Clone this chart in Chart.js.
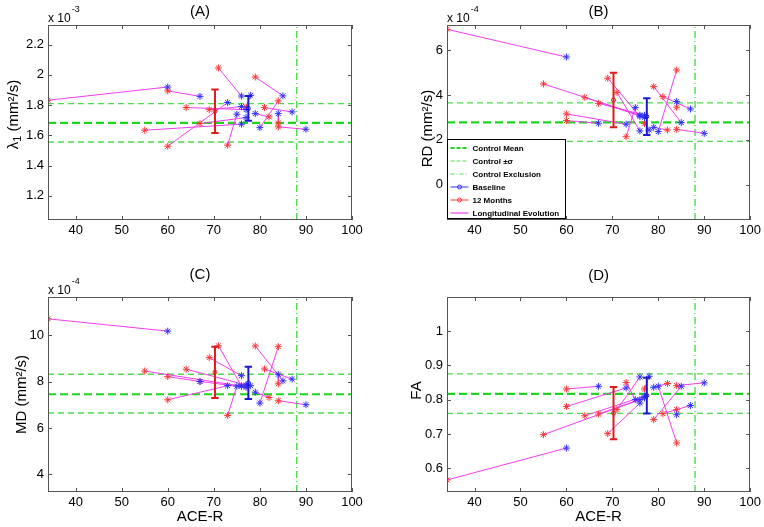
<!DOCTYPE html>
<html>
<head>
<meta charset="utf-8">
<script src="https://cdn.jsdelivr.net/npm/chart.js@4.4.1/dist/chart.umd.min.js"></script>
<style>
  body { margin: 0; background: #fff; }
  canvas { position: absolute; }
</style>
</head>
<body>
<canvas id="cA" width="382" height="262" style="left:0;top:0"></canvas>
<canvas id="cB" width="382" height="262" style="left:382px;top:0"></canvas>
<canvas id="cC" width="382" height="265" style="left:0;top:262px"></canvas>
<canvas id="cD" width="382" height="265" style="left:382px;top:262px"></canvas>
<script>
// ACE-R score of each subject at baseline and after 12 months
const aceBaseline = [60, 67, 76, 85, 87, 90, 84, 80, 79, 76, 73, 77, 77, 75, 78, 76]
const ace12Months = [34, 60, 71, 79, 81, 84, 84, 84, 82, 55, 60, 64, 67, 73, 77, 69]
const aceTicks = [40, 50, 60, 70, 80, 90, 100]
const aceRange = [34, 100]
const exclusionAce = 88
const meanAce = [77.5, 70.25]   // baseline, 12 months

// (A) lambda1  (x 10^-3)
const l1Baseline = [1.92, 1.858, 1.86, 1.861, 1.755, 1.64, 1.744, 1.651, 1.744, 1.674, 1.817, 1.77, 1.718, 1.74, 1.865, 1.79]
const l1Months12 = [1.832, 1.894, 2.046, 1.986, 1.784, 1.656, 1.682, 1.828, 1.722, 1.634, 1.528, 1.784, 1.678, 1.535, 1.788, 1.77]
const l1Control = [1.556, 1.682, 1.81]   // -sd, mean, +sd
const l1Mean = [1.778, 1.76]
const l1Low = [1.696, 1.615]
const l1High = [1.861, 1.903]
const l1Ticks = [1.2, 1.4, 1.6, 1.8, 2, 2.2]

// (B) RD  (x 10^-4)
const rdBaseline = [5.70, 2.74, 2.40, 2.77, 3.38, 2.29, 3.71, 2.37, 2.56, 3.10, 2.70, 3.00, 3.10, 3.44, 2.44, 3.05]
const rdMonths12 = [6.94, 2.86, 4.12, 4.38, 3.93, 2.47, 3.46, 5.12, 2.44, 4.50, 3.16, 3.90, 3.63, 2.14, 2.74, 4.75]
const rdControl = [1.93, 2.78, 3.65]
const rdMean = [3.04, 3.78]
const rdLow = [2.22, 2.56]
const rdHigh = [3.86, 5.00]
const rdTicks = [0, 2, 4, 6]

// (C) MD  (x 10^-4)
const mdBaseline = [10.17, 8.0, 7.8, 8.03, 8.10, 7.0, 8.31, 7.07, 7.54, 7.8, 7.82, 7.85, 7.75, 7.8, 7.82, 8.25]
const mdMonths12 = [10.70, 8.21, 9.54, 9.53, 8.54, 7.17, 7.90, 9.50, 7.31, 8.45, 7.21, 8.53, 8.0, 6.54, 7.81, 9.03]
const mdControl = [6.64, 7.45, 8.31]
const mdMean = [7.94, 8.40]
const mdLow = [7.25, 7.29]
const mdHigh = [8.64, 9.50]
const mdTicks = [4, 6, 8, 10]

// (D) FA
const faBaseline = [0.659, 0.839, 0.866, 0.839, 0.783, 0.849, 0.756, 0.839, 0.836, 0.80, 0.834, 0.81, 0.805, 0.80, 0.868, 0.79]
const faMonths12 = [0.566, 0.831, 0.771, 0.742, 0.759, 0.841, 0.771, 0.674, 0.847, 0.698, 0.780, 0.753, 0.758, 0.850, 0.831, 0.701]
const faControl = [0.760, 0.817, 0.875]
const faMean = [0.812, 0.761]
const faLow = [0.760, 0.685]
const faHigh = [0.864, 0.837]
const faTicks = [0.6, 0.7, 0.8, 0.9, 1]

const legendLabels = ['Control Mean', 'Control \u00b1\u03c3', 'Control Exclusion', 'Baseline', '12 Months', 'Longitudinal Evolution']

const FONT = "'Liberation Sans', Arial, Helvetica, sans-serif"
const BLUE = '#3030ff', RED = '#ff3535', MAGENTA = '#f03cf0'
const MEAN_GREEN = '#1fd61f', LIGHT_GREEN = '#4cdc4c'
const BAR_BLUE = '#1a1ad0', BAR_RED = '#dc1c1c'

const fmt = v => String(Number(v.toFixed(3)))

const hline = (y, color, width, dash, order) => ({
    data: [{x: aceRange[0], y: y}, {x: aceRange[1], y: y}],
    borderColor: color, borderWidth: width, borderDash: dash, pointRadius: 0, order: order
})

// rotated y label made of pieces [text, baseline shift, size factor]
function drawYTitle(ctx, parts, cx, cy) {
    const size = 15
    let total = 0
    parts.forEach(p => {
        ctx.font = Math.round(size * p[2]) + 'px ' + FONT
        total += ctx.measureText(p[0]).width
    })
    ctx.save()
    ctx.translate(cx, cy)
    ctx.rotate(-Math.PI / 2)
    ctx.textAlign = 'left'
    ctx.textBaseline = 'middle'
    let x = -total / 2
    parts.forEach(p => {
        ctx.font = Math.round(size * p[2]) + 'px ' + FONT
        ctx.fillText(p[0], x, p[1])
        x += ctx.measureText(p[0]).width
    })
    ctx.restore()
}

// draws box, inward ticks, panel title, y label, exponent and (for B) legend
const framePlugin = {
    id: 'frame',
    afterDatasetsDraw(chart, args, o) {
        const {ctx, chartArea: a, scales: {x, y}} = chart
        ctx.save()
        ctx.strokeStyle = '#555'
        ctx.lineWidth = 1
        ctx.strokeRect(Math.round(a.left) + 0.5, Math.round(a.top) + 0.5, Math.round(a.width) - 1, Math.round(a.height) - 1)
        ctx.beginPath()
        x.ticks.forEach(t => {
            const px = Math.round(x.getPixelForValue(t.value)) + 0.5
            ctx.moveTo(px, a.bottom); ctx.lineTo(px, a.bottom - 4)
            ctx.moveTo(px, a.top); ctx.lineTo(px, a.top + 4)
        })
        y.ticks.forEach(t => {
            const py = Math.round(y.getPixelForValue(t.value)) + 0.5
            ctx.moveTo(a.left, py); ctx.lineTo(a.left + 4, py)
            ctx.moveTo(a.right, py); ctx.lineTo(a.right - 4, py)
        })
        ctx.stroke()
        ctx.restore()
    },
    afterDraw(chart, args, o) {
        const {ctx, chartArea: a} = chart
        ctx.save()
        ctx.fillStyle = '#000'
        ctx.font = '15px ' + FONT
        ctx.textAlign = 'center'
        ctx.textBaseline = 'middle'
        ctx.fillText(o.title, (a.left + a.right) / 2, a.top - o.titleGap)
        drawYTitle(ctx, o.yTitle, o.yTitleX, (a.top + a.bottom) / 2 + o.yTitleShift)
        if (o.exponent) {
            ctx.textAlign = 'left'
            ctx.textBaseline = 'alphabetic'
            ctx.font = '12px ' + FONT
            ctx.fillText('x 10', a.left, a.top - 3)
            const w = ctx.measureText('x 10').width
            ctx.font = '9px ' + FONT
            ctx.fillText(o.exponent, a.left + w + 1, a.top - 13)
        }
        if (o.legend) drawLegend(ctx, a)
        ctx.restore()
    }
}

function drawLegend(ctx, a) {
    const L = Math.round(a.left) + 0.5, W = 118, H = 79
    const T = Math.round(a.bottom - 2 - H) + 0.5
    ctx.fillStyle = '#fff'
    ctx.fillRect(L, T, W, H)
    ctx.strokeStyle = '#000'
    ctx.lineWidth = 1
    ctx.strokeRect(L, T, W, H)
    const styles = [
        {c: MEAN_GREEN, w: 2, d: [4, 2]},
        {c: LIGHT_GREEN, w: 1, d: [4, 2]},
        {c: LIGHT_GREEN, w: 1, d: [4, 2, 1, 2]},
        {c: BLUE, w: 1, d: [], m: true},
        {c: RED, w: 1, d: [], m: true},
        {c: MAGENTA, w: 1.2, d: []}
    ]
    ctx.font = 'bold 8px ' + FONT
    ctx.textAlign = 'left'
    ctx.textBaseline = 'middle'
    legendLabels.forEach((lab, i) => {
        const yy = T + 8.5 + i * 13
        const s = styles[i]
        ctx.strokeStyle = s.c
        ctx.lineWidth = s.w
        ctx.setLineDash(s.d)
        ctx.beginPath()
        ctx.moveTo(L + 3, yy); ctx.lineTo(L + 21, yy)
        ctx.stroke()
        ctx.setLineDash([])
        if (s.m) {
            ctx.beginPath()
            ctx.arc(L + 12, yy, 2, 0, Math.PI * 2)
            ctx.stroke()
        }
        ctx.fillStyle = '#000'
        ctx.fillText(lab, L + 25, yy + 0.5)
    })
}

function makePanel(id, p) {
    const datasets = []
    // control lines
    datasets.push(hline(p.control[0], LIGHT_GREEN, 1.4, [6, 4], 20))
    datasets.push(hline(p.control[2], LIGHT_GREEN, 1.4, [6, 4], 20))
    datasets.push(hline(p.control[1], MEAN_GREEN, 2.2, [8, 4], 19))
    datasets.push({
        data: [{x: exclusionAce, y: p.range[0]}, {x: exclusionAce, y: p.range[1]}],
        borderColor: LIGHT_GREEN, borderWidth: 1.4, borderDash: [7, 3, 1, 3], pointRadius: 0, order: 20
    })
    // longitudinal evolution (one segment per subject)
    const evo = []
    p.base.forEach((b, i) => {
        evo.push({x: aceBaseline[i], y: b}, {x: ace12Months[i], y: p.m12[i]}, {x: ace12Months[i], y: null})
    })
    datasets.push({data: evo, borderColor: MAGENTA, borderWidth: 1, pointRadius: 0, spanGaps: false, order: 10})
    // subjects
    datasets.push({
        data: aceBaseline.map((x, i) => ({x: x, y: p.base[i]})),
        showLine: false, pointStyle: 'star', pointRadius: 3.5, borderColor: BLUE, borderWidth: 1, order: 3
    })
    datasets.push({
        data: ace12Months.map((x, i) => ({x: x, y: p.m12[i]})),
        showLine: false, pointStyle: 'star', pointRadius: 3.5, borderColor: RED, borderWidth: 1, order: 3
    })
    // mean +- sd error bars
    const cap = 0.8
    ;[BAR_BLUE, BAR_RED].forEach((col, k) => {
        const x = meanAce[k], lo = p.low[k], hi = p.high[k]
        datasets.push({
            data: [{x: x, y: lo}, {x: x, y: hi}, {x: x, y: null},
                   {x: x - cap, y: hi}, {x: x + cap, y: hi}, {x: x, y: null},
                   {x: x - cap, y: lo}, {x: x + cap, y: lo}],
            borderColor: col, borderWidth: 2, pointRadius: 0, spanGaps: false, order: 1
        })
        datasets.push({
            data: [{x: x, y: p.mean[k]}],
            showLine: false, pointStyle: 'circle', pointRadius: 2, borderColor: col,
            backgroundColor: 'rgba(0,0,0,0)', borderWidth: 1, order: 0
        })
    })

    return new Chart(document.getElementById(id), {
        type: 'line',
        data: {datasets: datasets},
        plugins: [framePlugin],
        options: {
            responsive: false,
            animation: false,
            layout: {padding: {top: p.padTop, right: p.padRight, left: 0, bottom: 0}},
            plugins: {
                legend: {display: false},
                tooltip: {enabled: false},
                frame: {title: p.title, titleGap: p.titleGap, exponent: p.exponent, legend: p.legend,
                        yTitle: p.yTitle, yTitleX: p.yTitleX, yTitleShift: p.yTitleShift || 0}
            },
            scales: {
                x: {
                    type: 'linear',
                    min: aceRange[0], max: aceRange[1],
                    afterBuildTicks: s => { s.ticks = aceTicks.map(v => ({value: v})) },
                    afterFit: s => { s.height = p.xHeight },
                    grid: {display: false, drawTicks: false},
                    border: {display: false},
                    ticks: {color: '#000', font: {family: FONT, size: 13}, padding: 3, maxRotation: 0, autoSkip: false, callback: fmt},
                    title: {display: !!p.xTitle, text: p.xTitle || '', color: '#000', font: {family: FONT, size: 15}, padding: {top: 0, bottom: 1}}
                },
                y: {
                    type: 'linear',
                    min: p.range[0], max: p.range[1],
                    afterBuildTicks: s => { s.ticks = p.ticks.map(v => ({value: v})) },
                    afterFit: s => { s.width = p.yWidth },
                    grid: {display: false, drawTicks: false},
                    border: {display: false},
                    ticks: {color: '#000', font: {family: FONT, size: 13}, padding: 4, autoSkip: false, callback: fmt}
                }
            }
        }
    })
}

makePanel('cA', {
    title: '(A)', titleGap: 13, exponent: '-3',
    yTitle: [['\u03bb', 0, 1], ['1', 4, 0.7], [' (mm\u00b2/s)', 0, 1]], yTitleX: 14, yTitleShift: -8,
    base: l1Baseline, m12: l1Months12, control: l1Control, mean: l1Mean, low: l1Low, high: l1High,
    range: [1.04, 2.33], ticks: l1Ticks, padTop: 25, padRight: 30, yWidth: 48, xHeight: 42
})
makePanel('cB', {
    title: '(B)', titleGap: 13, exponent: '-4', legend: true,
    yTitle: [['RD (mm\u00b2/s)', 0, 1]], yTitleX: 46, yTitleShift: 6,
    base: rdBaseline, m12: rdMonths12, control: rdControl, mean: rdMean, low: rdLow, high: rdHigh,
    range: [-1.58, 7.13], ticks: rdTicks, padTop: 25, padRight: 13, yWidth: 65, xHeight: 42
})
makePanel('cC', {
    title: '(C)', titleGap: 22, exponent: '-4', xTitle: 'ACE-R',
    yTitle: [['MD (mm\u00b2/s)', 0, 1]], yTitleX: 22, yTitleShift: 0,
    base: mdBaseline, m12: mdMonths12, control: mdControl, mean: mdMean, low: mdLow, high: mdHigh,
    range: [3.24, 11.64], ticks: mdTicks, padTop: 35, padRight: 30, yWidth: 48, xHeight: 35
})
makePanel('cD', {
    title: '(D)', titleGap: 21, xTitle: 'ACE-R',
    yTitle: [['FA', 0, 1]], yTitleX: 35, yTitleShift: -4,
    base: faBaseline, m12: faMonths12, control: faControl, mean: faMean, low: faLow, high: faHigh,
    range: [0.531, 1.099], ticks: faTicks, padTop: 35, padRight: 13, yWidth: 65, xHeight: 35
})
</script>
</body>
</html>
